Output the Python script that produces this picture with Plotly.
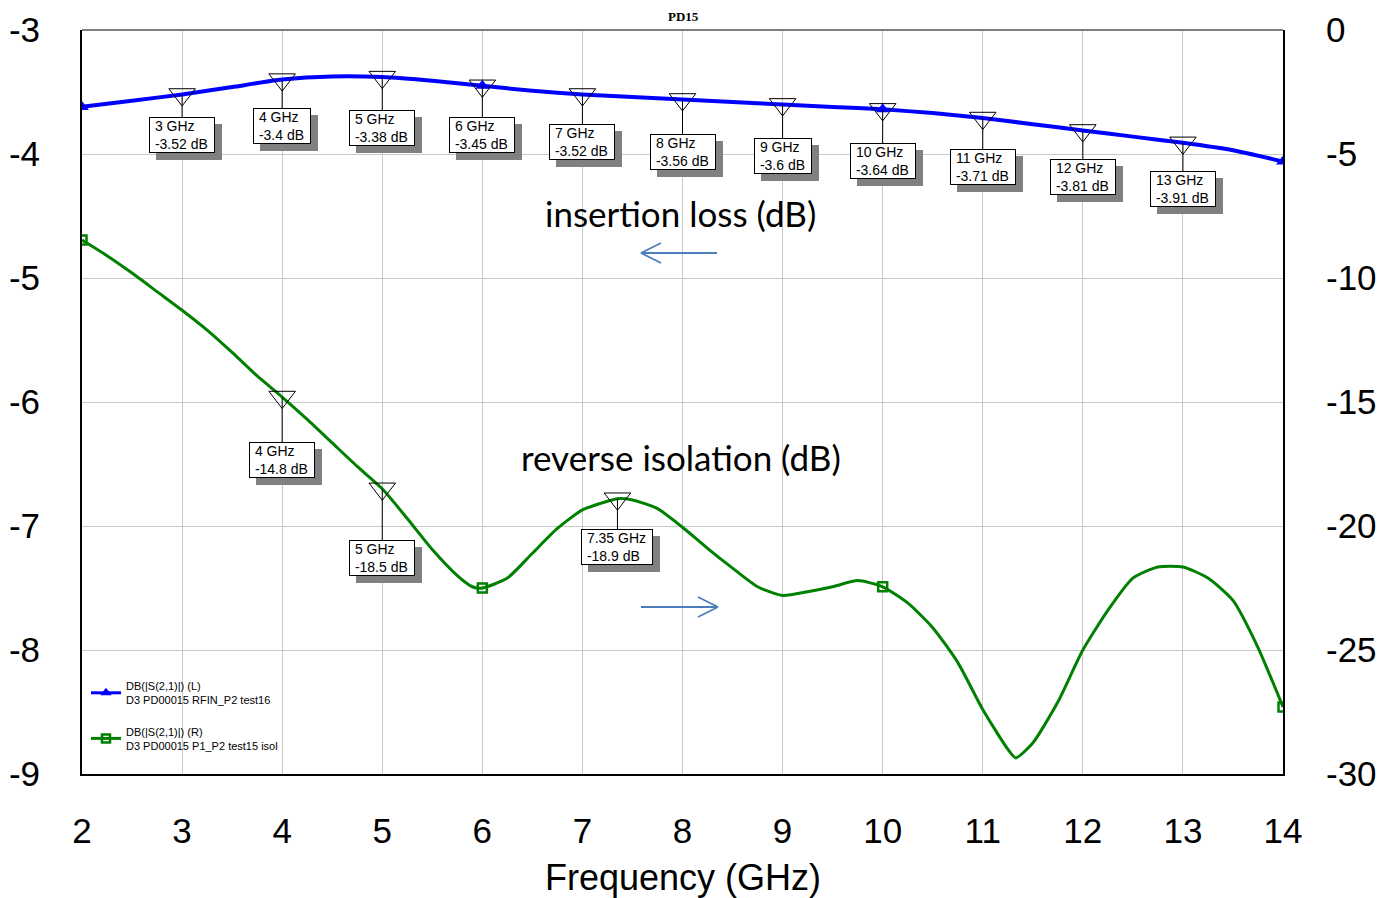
import plotly.graph_objects as go

# ---------------- data ----------------
il_freq = [2.0, 2.5, 3.0, 3.5, 4.0, 4.5, 5.0, 5.5, 6.0, 6.5, 7.0, 7.5, 8.0,
           8.5, 9.0, 9.5, 10.0, 10.5, 11.0, 11.5, 12.0, 12.5, 13.0, 13.5, 14.0]
il_db = [-3.62, -3.57, -3.52, -3.46, -3.40, -3.375, -3.38, -3.41, -3.45, -3.49,
         -3.52, -3.54, -3.56, -3.58, -3.60, -3.62, -3.64, -3.67, -3.71, -3.76,
         -3.81, -3.86, -3.91, -3.97, -4.06]

iso_freq = [2.0, 2.25, 2.5, 2.75, 3.0, 3.25, 3.5, 3.75, 4.0, 4.25, 4.5, 4.75,
            5.0, 5.25, 5.5, 5.75, 5.9, 6.0, 6.25, 6.5, 6.75, 7.0, 7.25, 7.35,
            7.5, 7.75, 8.0, 8.25, 8.5, 8.75, 9.0, 9.25, 9.5, 9.75, 10.0, 10.25,
            10.5, 10.75, 11.0, 11.25, 11.33, 11.5, 11.75, 12.0, 12.25, 12.5,
            12.75, 13.0, 13.25, 13.5, 13.75, 14.0]
iso_db = [-8.47, -9.1, -9.8, -10.55, -11.3, -12.1, -13.0, -13.95, -14.8, -15.7,
          -16.65, -17.6, -18.5, -19.7, -20.95, -22.0, -22.45, -22.5, -22.1,
          -21.1, -20.1, -19.35, -19.0, -18.9, -18.95, -19.3, -20.05, -20.9,
          -21.7, -22.45, -22.8, -22.65, -22.45, -22.2, -22.45, -23.1, -24.1,
          -25.5, -27.4, -29.0, -29.35, -28.75, -27.1, -25.0, -23.4, -22.1,
          -21.65, -21.65, -22.1, -23.0, -24.9, -27.3]

il_mk_freq = [3, 4, 5, 6, 7, 8, 9, 10, 11, 12, 13]
il_mk_db = [-3.52, -3.4, -3.38, -3.45, -3.52, -3.56, -3.6, -3.64, -3.71, -3.81, -3.91]
iso_mk_freq = [4, 5, 7.35]
iso_mk_db = [-14.8, -18.5, -18.9]

sym_freq = [2, 6, 10, 14]   # data-symbol positions on both traces

x_ticks = list(range(2, 15))
left_ticks = [-9, -8, -7, -6, -5, -4, -3]
right_ticks = [-30, -25, -20, -15, -10, -5, 0]

legend_il = "DB(|S(2,1)|) (L)<br>D3 PD00015 RFIN_P2 test16"
legend_iso = "DB(|S(2,1)|) (R)<br>D3 PD00015 P1_P2 test15 isol"

# ---------------- styles / layout ----------------
OFF = 8                      # page body margin
W, H = 1393 - OFF, 898 - OFF
L, T = 82 - OFF, 30 - OFF
PW, PH = 1201, 744
R, B = W - L - PW, H - T - PH
BLUE = "#0000ff"
GREEN = "#008000"
ARROW = "#4a7ebb"
AR = "Arial, Liberation Sans, sans-serif"

il_sym_db = [il_db[il_freq.index(f)] for f in sym_freq]
iso_sym_db = [iso_db[iso_freq.index(f)] for f in sym_freq]

fig = go.Figure()
fig.add_trace(go.Scatter(x=il_freq, y=il_db, mode="lines", yaxis="y",
                         line=dict(color=BLUE, width=4, shape="spline", smoothing=0.6),
                         showlegend=False, hoverinfo="skip"))
fig.add_trace(go.Scatter(x=sym_freq, y=il_sym_db, mode="markers", yaxis="y",
                         marker=dict(symbol="triangle-up", size=12, color=BLUE),
                         showlegend=False, hoverinfo="skip"))
fig.add_trace(go.Scatter(x=iso_freq, y=iso_db, mode="lines", yaxis="y2",
                         line=dict(color=GREEN, width=3, shape="spline", smoothing=0.6),
                         showlegend=False, hoverinfo="skip"))
fig.add_trace(go.Scatter(x=sym_freq, y=iso_sym_db, mode="markers", yaxis="y2",
                         marker=dict(symbol="square-open", size=9, color=GREEN,
                                     line=dict(width=2.5, color=GREEN)),
                         showlegend=False, hoverinfo="skip"))
# marker triangles
fig.add_trace(go.Scatter(x=il_mk_freq, y=il_mk_db, mode="markers", yaxis="y",
                         marker=dict(symbol="triangle-down-open", size=23, color="black",
                                     line=dict(width=1, color="black")),
                         showlegend=False, hoverinfo="skip"))
fig.add_trace(go.Scatter(x=iso_mk_freq, y=iso_mk_db, mode="markers", yaxis="y2",
                         marker=dict(symbol="triangle-down-open", size=23, color="black",
                                     line=dict(width=1, color="black")),
                         showlegend=False, hoverinfo="skip"))
# legend entries
fig.add_trace(go.Scatter(x=[None], y=[None], mode="lines+markers", name=legend_il,
                         legendgroup="a", line=dict(color=BLUE, width=3),
                         marker=dict(symbol="triangle-up", size=10, color=BLUE)))
fig.add_trace(go.Scatter(x=[None], y=[None], mode="lines+markers", name=legend_iso, yaxis="y2",
                         legendgroup="b", line=dict(color=GREEN, width=3),
                         marker=dict(symbol="square-open", size=8, color=GREEN,
                                     line=dict(width=2.5, color=GREEN))))

# ---------------- marker readout boxes ----------------
CW = {"0": .556, "1": .556, "2": .556, "3": .556, "4": .556, "5": .556, "6": .556,
      "7": .556, "8": .556, "9": .556, ".": .278, "-": .333, " ": .278, "G": .778,
      "H": .722, "z": .5, "d": .556, "B": .667}
FS = 14


def text_w(s):
    return sum(CW.get(c, .556) for c in s) * FS


def fmt(v):
    return ("%g" % v)


annotations = []


def add_box(f, v, yref, ay):
    l1 = "%s GHz" % fmt(f)
    l2 = "%s dB" % fmt(v)
    w = max(text_w(l1), text_w(l2)) + 9
    txt = "&nbsp;" + l1 + "<br>&nbsp;" + l2
    common = dict(x=f, y=v, xref="x", yref=yref, width=w, height=32, align="left",
                  borderpad=1, borderwidth=1, showarrow=True, arrowhead=0, standoff=0)
    # shadow
    annotations.append(dict(text=txt, ax=7, ay=ay + 7,
                            font=dict(family=AR, size=FS, color="#808080"),
                            bgcolor="#808080", bordercolor="#808080",
                            arrowcolor="rgba(0,0,0,0)", arrowwidth=0.1, **common))
    annotations.append(dict(text=txt, ax=0, ay=ay,
                            font=dict(family=AR, size=FS, color="black"),
                            bgcolor="white", bordercolor="black",
                            arrowcolor="black", arrowwidth=1, **common))


il_offsets = [41, 46, 51, 49, 48, 53, 52, 52, 49, 47, 46]
for f, v, o in zip(il_mk_freq, il_mk_db, il_offsets):
    add_box(f, v, "y", o)
iso_offsets = [63, 69, 48]
for f, v, o in zip(iso_mk_freq, iso_mk_db, iso_offsets):
    add_box(f, v, "y2", o)


def px(xp):
    return (xp - 82) / PW


def py(yp):
    return (774 - yp) / PH


def label(text, x, y, font):
    return dict(text=text, x=px(x), y=py(y), xref="paper", yref="paper", showarrow=False,
                xanchor="center", yanchor="middle", font=font)


annotations += [
    label("insertion loss (dB)", 680, 213,
          dict(family="Lato, Open Sans, sans-serif", size=35, color="black")),
    label("reverse isolation (dB)", 681, 457,
          dict(family="Lato, Open Sans, sans-serif", size=35, color="black")),
    label("<b>PD15</b>", 683, 17,
          dict(family="Liberation Serif, Times New Roman, serif", size=13, color="black")),
    label("Frequency (GHz)", 683, 877, dict(family=AR, size=36, color="black")),
]

shapes = []


def arrow(x0, x1, yy):
    shapes.append(dict(type="line", xref="paper", yref="paper", x0=px(x0), x1=px(x1),
                       y0=py(yy), y1=py(yy), line=dict(color=ARROW, width=1.8)))
    d = 20 if x1 > x0 else -20
    for s in (-10, 10):
        shapes.append(dict(type="line", xref="paper", yref="paper", x0=px(x1), y0=py(yy),
                           x1=px(x1 - d), y1=py(yy + s), line=dict(color=ARROW, width=1.8)))


arrow(717, 641, 253)
arrow(641, 718, 607)
# top frame line
shapes.append(dict(type="line", xref="paper", yref="paper", x0=0, x1=1, y0=1, y1=1,
                   line=dict(color="#7f7f7f", width=2)))

fig.update_layout(
    width=W, height=H, margin=dict(l=L, r=R, t=T, b=B, autoexpand=False),
    paper_bgcolor="white", plot_bgcolor="white",
    xaxis=dict(range=[2, 14], tickvals=x_ticks, ticktext=[str(t) for t in x_ticks],
               showgrid=True, gridcolor="#c8c8c8", gridwidth=1, zeroline=False,
               showline=True, linecolor="black", linewidth=2, ticks="",
               ticklabelstandoff=25, tickfont=dict(family=AR, size=35, color="black")),
    yaxis=dict(range=[-9, -3], tickvals=left_ticks, ticktext=[str(t) for t in left_ticks],
               showgrid=True, gridcolor="#c8c8c8", gridwidth=1, zeroline=False,
               showline=True, linecolor="black", linewidth=2, ticks="",
               ticklabelstandoff=33, tickfont=dict(family=AR, size=35, color="black")),
    yaxis2=dict(range=[-30, 0], overlaying="y", side="right", tickvals=right_ticks,
                ticktext=[str(t) for t in right_ticks], showgrid=False, zeroline=False,
                showline=True, linecolor="black", linewidth=2, ticks="",
                ticklabelstandoff=34, tickfont=dict(family=AR, size=35, color="black")),
    legend=dict(x=px(86), y=py(672), xanchor="left", yanchor="top",
                font=dict(family=AR, size=11, color="black"), bgcolor="rgba(0,0,0,0)",
                itemwidth=30, tracegroupgap=14),
    annotations=annotations, shapes=shapes,
)

fig.write_html("out.html")
